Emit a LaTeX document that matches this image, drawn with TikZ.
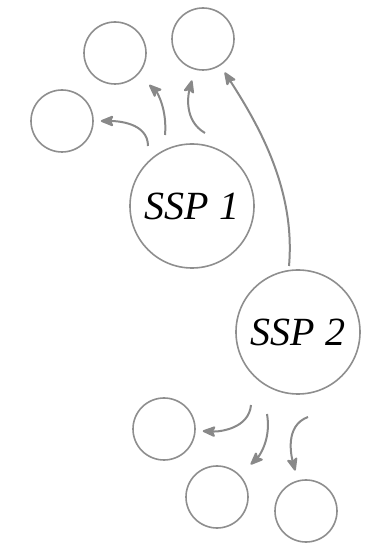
\documentclass[tikz,border=0pt]{standalone}
\usepackage{fontspec}
\setmainfont{Liberation Serif}
\usetikzlibrary{arrows.meta}
\definecolor{linegray}{HTML}{8E8E8E}
\definecolor{arrowgray}{HTML}{898989}
\tikzset{
  bubble/.style={circle, draw=linegray, line width=1.6pt, inner sep=0pt, minimum size=62pt},
  bigbubble/.style={bubble, minimum size=124pt, font=\itshape\fontsize{40}{40}\selectfont},
  flow/.style={draw=arrowgray, line width=2pt,
    -{Stealth[length=15pt, width=12pt, inset=3pt, round]}}
}
\begin{document}
\begin{tikzpicture}[x=1pt, y=1pt]
  \useasboundingbox (0,0) rectangle (377,547);

  % main nodes
  \node[bigbubble] (ssp1) at (192,341) {SSP 1};
  \node[bigbubble] (ssp2) at (298,215) {SSP 2};

  % satellites of SSP 1
  \node[bubble] (a) at (115,494) {};
  \node[bubble] (b) at (203,508) {};
  \node[bubble] (c) at (62,426) {};

  % satellites of SSP 2
  \node[bubble] (d) at (164,118) {};
  \node[bubble] (e) at (217,50) {};
  \node[bubble] (f) at (306,36) {};

  % free tails of the arrows
  \coordinate (tc) at (148,401);
  \coordinate (ta) at (165,412);
  \coordinate (tb) at (205,414);
  \coordinate (tl) at (289,281);
  \coordinate (td) at (251,142);
  \coordinate (te) at (267,133);
  \coordinate (tf) at (308,130);

  % arrows around SSP 1
  \draw[flow, shorten >=7pt]  (tc) to[out=90, in=0] (c);
  \draw[flow, shorten >=15pt] (ta) to[out=85, in=-43] (a);
  \draw[flow, shorten >=11pt] (tb) to[out=150, in=-105] (b);
  \draw[flow, shorten >=8pt]  (tl) to[out=85, in=-57, looseness=0.9] (b);

  % arrows around SSP 2
  \draw[flow, shorten >=7pt]  (td) to[out=-95, in=-3] (d);
  \draw[flow, shorten >=15pt] (te) to[out=-80, in=44] (e);
  \draw[flow, shorten >=10pt] (tf) to[out=200, in=105] (f);
\end{tikzpicture}
\end{document}
